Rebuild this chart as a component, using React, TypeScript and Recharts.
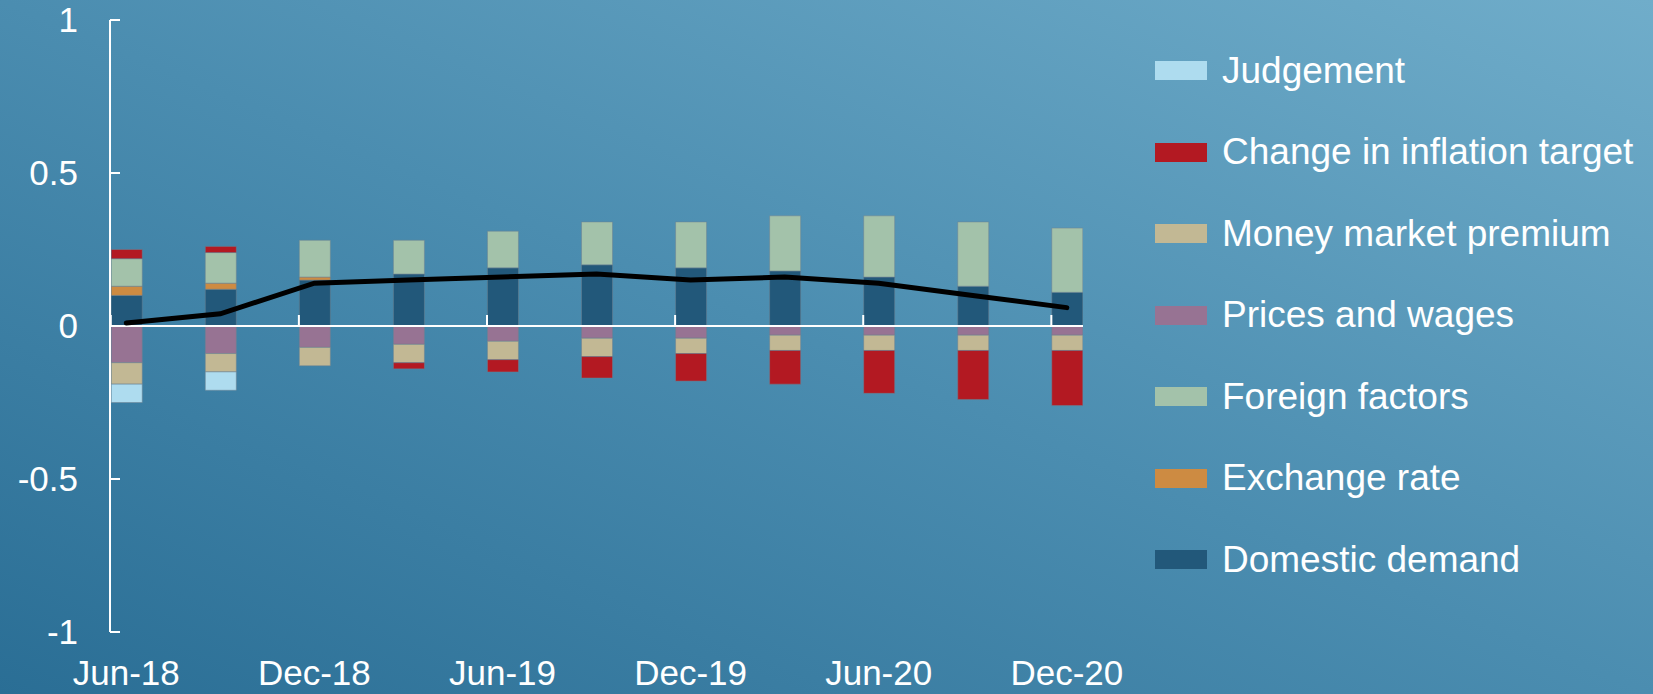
import { ComposedChart, Bar, Line, XAxis, YAxis, ReferenceLine, Legend } from "recharts";

const categories = ["Jun-18", "Sep-18", "Dec-18", "Mar-19", "Jun-19", "Sep-19", "Dec-19", "Mar-20", "Jun-20", "Sep-20", "Dec-20"];
const domesticDemand = [0.10, 0.12, 0.15, 0.17, 0.19, 0.20, 0.19, 0.18, 0.16, 0.13, 0.11];
const exchangeRate = [0.03, 0.02, 0.01, 0, 0, 0, 0, 0, 0, 0, 0];
const foreignFactors = [0.09, 0.10, 0.12, 0.11, 0.12, 0.14, 0.15, 0.18, 0.20, 0.21, 0.21];
const pricesWages = [-0.12, -0.09, -0.07, -0.06, -0.05, -0.04, -0.04, -0.03, -0.03, -0.03, -0.03];
const moneyMarket = [-0.07, -0.06, -0.06, -0.06, -0.06, -0.06, -0.05, -0.05, -0.05, -0.05, -0.05];
const inflationTarget = [0.03, 0.02, 0, -0.02, -0.04, -0.07, -0.09, -0.11, -0.14, -0.16, -0.18];
const judgement = [-0.06, -0.06, 0, 0, 0, 0, 0, 0, 0, 0, 0];
const total = [0.01, 0.04, 0.14, 0.15, 0.16, 0.17, 0.15, 0.16, 0.14, 0.10, 0.06];

const yTicks = [-1, -0.5, 0, 0.5, 1];
const labelIdx = [0, 2, 4, 6, 8, 10];

const FONT = '"Liberation Sans", Arial, sans-serif';

const SERIES = [
  { key: "domestic", name: "Domestic demand", color: "#22587a", values: domesticDemand },
  { key: "exchange", name: "Exchange rate", color: "#cd8b42", values: exchangeRate },
  { key: "foreign", name: "Foreign factors", color: "#a3c2aa", values: foreignFactors },
  { key: "prices", name: "Prices and wages", color: "#977393", values: pricesWages },
  { key: "mmp", name: "Money market premium", color: "#c2b894", values: moneyMarket },
  { key: "inflation", name: "Change in inflation target", color: "#b31922", values: inflationTarget },
  { key: "judgement", name: "Judgement", color: "#aedcef", values: judgement },
];

const data = categories.map((c, i) => {
  const row: Record<string, number | string> = { idx: i, label: c, total: total[i] };
  SERIES.forEach((s) => {
    row[s.key] = s.values[i];
  });
  return row;
});

// numeric x axis so the y axis sits at the left edge of the first bar
const X_MIN = -0.173;
const X_MAX = 10.172;
const PX_PER_UNIT = 973 / (X_MAX - X_MIN);
const PX_PER_Y = 306;

function LegendContent() {
  return (
    <div style={{ fontFamily: FONT, color: "#fff" }}>
      {[...SERIES].reverse().map((s) => (
        <div key={s.key} style={{ height: 81.5, display: "flex", alignItems: "center" }}>
          <span style={{ width: 52, height: 19, background: s.color, marginRight: 15, flex: "none" }} />
          <span style={{ fontSize: 37, whiteSpace: "nowrap" }}>{s.name}</span>
        </div>
      ))}
    </div>
  );
}

export default function App() {
  return (
    <div
      style={{
        position: "absolute",
        left: 0,
        top: 0,
        width: 1653,
        height: 694,
        background: "linear-gradient(to top right, #2a6e95 0%, #4b8db0 50%, #70adca 100%)",
      }}
    >
      <ComposedChart
        width={1653}
        height={694}
        data={data}
        stackOffset="sign"
        margin={{ top: 20, right: 570, bottom: 0, left: 0 }}
      >
        <XAxis
          dataKey="idx"
          type="number"
          domain={[X_MIN, X_MAX]}
          allowDataOverflow
          ticks={labelIdx}
          tickFormatter={(v: number) => categories[v] ?? ""}
          interval={0}
          axisLine={false}
          tickLine={false}
          tickSize={0}
          tickMargin={28}
          height={62}
          tick={{ fill: "#fff", fontSize: 35, fontFamily: FONT }}
        />
        <YAxis
          domain={[-1, 1]}
          ticks={yTicks}
          width={110}
          axisLine={{ stroke: "#fff", strokeWidth: 2 }}
          tickLine={false}
          tickSize={0}
          tickMargin={32}
          tick={{ fill: "#fff", fontSize: 35, fontFamily: FONT }}
        />
        <Legend
          layout="vertical"
          align="center"
          verticalAlign="middle"
          wrapperStyle={{ left: 1155, top: 30, width: 498, height: 580 }}
          content={<LegendContent />}
        />
        {SERIES.map((s) => (
          <Bar
            key={s.key}
            dataKey={s.key}
            name={s.name}
            stackId="a"
            fill={s.color}
            stroke="rgba(110,130,145,0.5)"
            strokeWidth={1}
            barSize={31}
            isAnimationActive={false}
          />
        ))}
        <ReferenceLine y={0} stroke="#fff" strokeWidth={2} />
        {yTicks
          .filter((v) => v !== 0)
          .map((v) => (
            <ReferenceLine
              key={"yt" + v}
              segment={[
                { x: X_MIN, y: v },
                { x: X_MIN + 10 / PX_PER_UNIT, y: v },
              ]}
              stroke="#fff"
              strokeWidth={2}
              ifOverflow="visible"
            />
          ))}
        {labelIdx.map((i) => (
          <ReferenceLine
            key={"xt" + i}
            segment={[
              { x: i - 15.5 / PX_PER_UNIT, y: 0 },
              { x: i - 15.5 / PX_PER_UNIT, y: 11 / PX_PER_Y },
            ]}
            stroke="#fff"
            strokeWidth={2}
            ifOverflow="visible"
          />
        ))}
        <Line
          dataKey="total"
          name="Total"
          type="linear"
          stroke="#000"
          strokeWidth={5}
          strokeLinecap="round"
          dot={false}
          legendType="none"
          isAnimationActive={false}
        />
      </ComposedChart>
    </div>
  );
}
